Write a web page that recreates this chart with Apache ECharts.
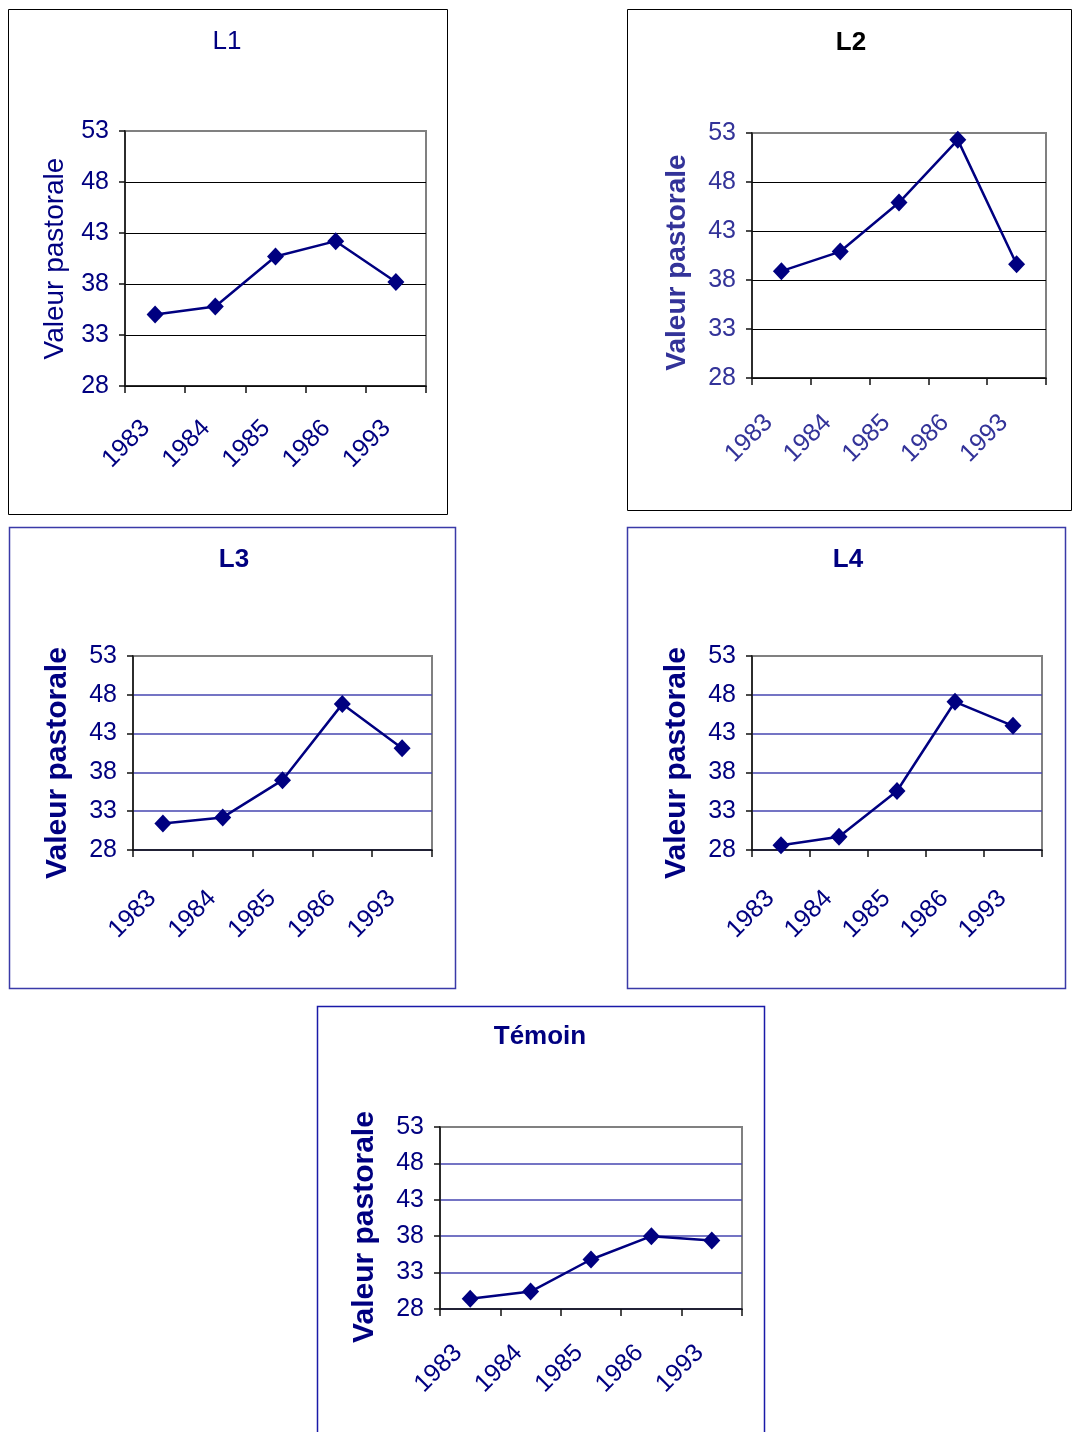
<!DOCTYPE html>
<html>
<head>
<meta charset="utf-8">
<script src="https://cdn.jsdelivr.net/npm/echarts@6/dist/echarts.min.js"></script>
<style>
  html, body { margin: 0; padding: 0; background: #fff; }
  #chart { width: 1072px; height: 1432px; }
</style>
</head>
<body>
<div id="chart"></div>
<script>
// categories and values
const years = ['1983', '1984', '1985', '1986', '1993']
const l1 = [35.0, 35.8, 40.7, 42.2, 38.2]
const l2 = [38.9, 40.9, 45.9, 52.3, 39.6]
const l3 = [31.4, 32.2, 37.0, 46.8, 41.1]
const l4 = [28.6, 29.7, 35.6, 47.1, 44.0]
const temoin = [29.4, 30.4, 34.8, 38.0, 37.4]
const yMin = 28
const yMax = 53
const yStep = 5
const yName = 'Valeur pastorale'

const FONT = '"Liberation Sans", Arial, sans-serif'

// one entry per panel: box, plot area and look
const panels = [
  { title: 'L1', data: l1, box: [8, 9, 439, 505], boxColor: '#000', boxWidth: 1,
    titleX: 227, titleY: 42, titleBold: false, titleColor: '#000080',
    grid: [125, 131, 301, 255], labelColor: '#000080', nameBold: false, nameSize: 28,
    nameGap: 56, nameShift: 0, xMargin: 29, xBack: 13,
    gridColor: '#000', gridWidth: 1 },
  { title: 'L2', data: l2, box: [627, 9, 444, 501], boxColor: '#000', boxWidth: 1,
    titleX: 851, titleY: 43, titleBold: true, titleColor: '#000',
    grid: [752, 133, 294, 245], labelColor: '#333399', nameBold: true, nameSize: 28,
    nameGap: 61, nameShift: 14, xMargin: 28, xBack: 18,
    gridColor: '#000', gridWidth: 1 },
  { title: 'L3', data: l3, box: [9, 527, 446, 461], boxColor: '#3a3aa8', boxWidth: 1.5,
    titleX: 234, titleY: 560, titleBold: true, titleColor: '#000080',
    grid: [133, 656, 299, 194], labelColor: '#000080', nameBold: true, nameSize: 30,
    nameGap: 60, nameShift: 20, xMargin: 34, xBack: 15,
    gridColor: '#4646b0', gridWidth: 1.5 },
  { title: 'L4', data: l4, box: [627, 527, 438, 461], boxColor: '#3a3aa8', boxWidth: 1.5,
    titleX: 848, titleY: 560, titleBold: true, titleColor: '#000080',
    grid: [752, 656, 290, 194], labelColor: '#000080', nameBold: true, nameSize: 30,
    nameGap: 60, nameShift: 20, xMargin: 34, xBack: 15,
    gridColor: '#4646b0', gridWidth: 1.5 },
  { title: 'Témoin', data: temoin, box: [317, 1006, 447, 440], boxColor: '#1a1aa8', boxWidth: 1.5,
    titleX: 540, titleY: 1037, titleBold: true, titleColor: '#000080',
    grid: [440, 1127, 302, 182], labelColor: '#000080', nameBold: true, nameSize: 30,
    nameGap: 60, nameShift: 18, xMargin: 28, xBack: 17,
    gridColor: '#4646b0', gridWidth: 1.5 }
]

let myChart = echarts.init(document.getElementById('chart'), null, { renderer: 'canvas' })

let grids = []
let xAxes = []
let yAxes = []
let series = []
let graphics = []

panels.forEach((p, i) => {
  graphics.push({
    type: 'rect',
    silent: true,
    shape: { x: p.box[0] + 0.5, y: p.box[1] + 0.5, width: p.box[2], height: p.box[3] },
    style: { fill: 'none', stroke: p.boxColor, lineWidth: p.boxWidth }
  })
  graphics.push({
    type: 'text',
    silent: true,
    x: p.titleX,
    y: p.titleY,
    style: {
      text: p.title,
      fill: p.titleColor,
      font: (p.titleBold ? 'bold ' : '') + '26px ' + FONT,
      align: 'center',
      verticalAlign: 'middle',
      textAlign: 'center',
      textVerticalAlign: 'middle'
    }
  })
  grids.push({
    left: p.grid[0],
    top: p.grid[1],
    width: p.grid[2],
    height: p.grid[3],
    show: true,
    borderColor: '#808080',
    borderWidth: 2,
    backgroundColor: '#fff'
  })
  xAxes.push({
    type: 'category',
    gridIndex: i,
    data: years,
    boundaryGap: true,
    axisLine: { lineStyle: { color: '#111', width: 1.5 } },
    axisTick: { show: true, length: 7, interval: 0, lineStyle: { color: '#111', width: 1.5 } },
    axisLabel: {
      rotate: 45,
      interval: 0,
      margin: p.xMargin,
      padding: [0, p.xBack, 0, 0],
      color: p.labelColor,
      fontSize: 25,
      fontFamily: FONT
    },
    splitLine: { show: false }
  })
  yAxes.push({
    type: 'value',
    gridIndex: i,
    min: yMin,
    max: yMax,
    interval: yStep,
    name: yName,
    nameLocation: 'middle',
    nameRotate: 90,
    nameGap: p.nameGap,
    nameTextStyle: {
      color: p.labelColor,
      fontSize: p.nameSize,
      fontWeight: p.nameBold ? 'bold' : 'normal',
      fontFamily: FONT,
      padding: [0, p.nameShift, 0, 0]
    },
    axisLine: { show: true, lineStyle: { color: '#111', width: 1.5 } },
    axisTick: { show: true, length: 6, lineStyle: { color: '#111', width: 1.5 } },
    axisLabel: { margin: 16, color: p.labelColor, fontSize: 25, fontFamily: FONT },
    splitLine: {
      show: true,
      showMaxLine: false,
      lineStyle: { color: p.gridColor, width: p.gridWidth }
    }
  })
  series.push({
    name: p.title,
    type: 'line',
    xAxisIndex: i,
    yAxisIndex: i,
    data: p.data,
    symbol: 'diamond',
    symbolSize: [17, 18],
    itemStyle: { color: '#000080' },
    lineStyle: { color: '#000080', width: 2.5 },
    z: 5
  })
})

let option = {
  backgroundColor: '#fff',
  animation: false,
  textStyle: { fontFamily: FONT },
  grid: grids,
  xAxis: xAxes,
  yAxis: yAxes,
  series: series,
  graphic: graphics
}
myChart.setOption(option)
</script>
</body>
</html>
